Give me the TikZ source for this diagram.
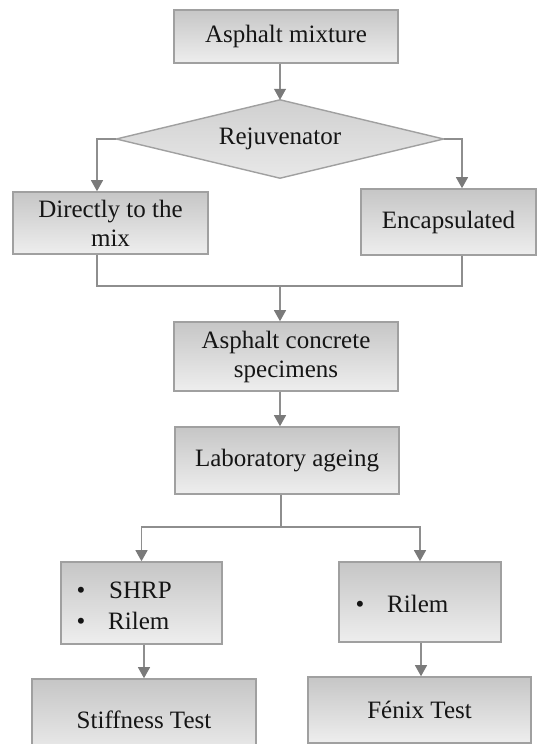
\documentclass[tikz,border=0pt]{standalone}
\usepackage{fontspec}
\setmainfont{Liberation Serif}
\usetikzlibrary{arrows.meta}
\definecolor{bordc}{HTML}{A0A0A0}
\definecolor{linec}{HTML}{8E8E8E}
\definecolor{headc}{HTML}{7A7A7A}
\definecolor{topc}{HTML}{C6C6C6}
\definecolor{botc}{HTML}{EEEEEE}
\definecolor{dtopc}{HTML}{D0D0D0}
\definecolor{dbotc}{HTML}{E8E8E8}
\definecolor{txtc}{HTML}{151515}
\begin{document}
\begin{tikzpicture}[x=1pt,y=-1pt,
  box/.style={draw=bordc,line width=1.6pt,top color=topc,bottom color=botc,
    inner sep=0pt,font=\fontsize{25}{29}\selectfont,text=txtc,align=center},
  txt/.style={inner sep=0pt,font=\fontsize{25}{29}\selectfont,text=txtc},
  conn/.style={draw=linec,line width=1.1pt},
  arr/.style={conn,-{Triangle[width=12pt,length=11pt,fill=headc,color=headc]}}]
\useasboundingbox (0,0) rectangle (538,744);
\clip (0,0) rectangle (538,744);
\fill[white] (0,0) rectangle (538,744);

\node[box,minimum width=224pt,minimum height=53pt] (mix) at (286,36.5) {Asphalt mixture};

\node[minimum width=327pt,minimum height=78pt,inner sep=0pt] (rej) at (280,139) {};
\path[draw=bordc,line width=1.4pt,top color=dtopc,bottom color=dbotc]
  (rej.north) -- (rej.east) -- (rej.south) -- (rej.west) -- cycle;
\node[txt] (rejt) at (rej.center) {Rejuvenator};

\node[box,minimum width=195pt,minimum height=62pt] (direct) at (110.5,223) {Directly to the\\mix};
\node[box,minimum width=175pt,minimum height=66pt] (encap) at (448.5,222) {Encapsulated};

\node[box,minimum width=224pt,minimum height=69pt] (spec) at (286,356.5) {Asphalt concrete\\specimens};
\node[box,minimum width=224pt,minimum height=67pt] (lab) at (287,460.5) {Laboratory ageing};

\node[box,minimum width=161pt,minimum height=82pt] (shrp) at (141.5,603) {};
\node[box,minimum width=162pt,minimum height=80pt] (rilem) at (420,602) {};

\node[txt,anchor=base] (b1) at (81,598) {\textbullet};
\node[txt,anchor=base west] (t1) at (109,598) {SHRP};
\node[txt,anchor=base] (b2) at (81,629) {\textbullet};
\node[txt,anchor=base west] (t2) at (108,629) {Rilem};
\node[txt,anchor=base] (b3) at (360,612.5) {\textbullet};
\node[txt,anchor=base west] (t3) at (387,612.5) {Rilem};

\node[box,minimum width=224pt,minimum height=81pt] (stiff) at (144,719.5) {\raisebox{0pt}{Stiffness Test}};
\node[box,minimum width=223pt,minimum height=66pt] (fenix) at (419.5,710) {Fénix Test};

% connectors
\draw[arr] (mix.south -| rej.north) -- (rej.north);
\draw[arr] (rej.west) -| ([xshift=-13.5pt]direct.north);
\draw[arr] (rej.east) -| ([xshift=13.5pt]encap.north);
\coordinate (merge) at (280,286);
\draw[conn] ([xshift=-13.5pt]direct.south) |- (merge) -| ([xshift=13.5pt]encap.south);
\draw[arr] (merge) -- (merge |- spec.north);
\draw[arr] (spec.south -| merge) -- (lab.north -| merge);
\coordinate (split) at (281,527);
\draw[conn] (lab.south -| split) -- (split);
\draw[arr] (split) -| (shrp.north);
\draw[arr] (split) -| (rilem.north);
\draw[arr] (shrp.south -| stiff.north) -- (stiff.north);
\draw[arr] ([xshift=1pt]rilem.south) -- ([xshift=1pt]rilem.south |- fenix.north);
\end{tikzpicture}
\end{document}
